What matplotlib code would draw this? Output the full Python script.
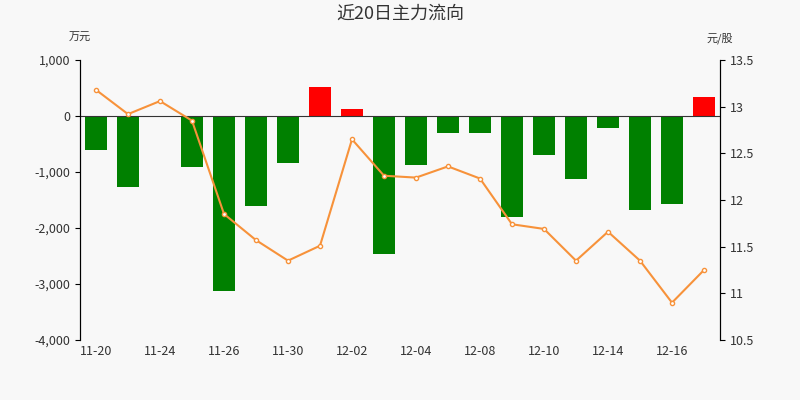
import matplotlib
matplotlib.use("Agg")
import matplotlib.pyplot as plt
plt.rcParams['font.family'] = ['Noto Sans CJK SC', 'DejaVu Sans']

dates = ["11-20","11-23","11-24","11-25","11-26","11-27","11-30","12-01","12-02","12-03",
         "12-04","12-07","12-08","12-09","12-10","12-11","12-14","12-15","12-16","12-17"]
flow = [-600,-1270,-20,-910,-3130,-1610,-840,520,125,-2470,
        -880,-310,-310,-1810,-700,-1130,-220,-1670,-1580,340]
price = [13.18,12.92,13.06,12.85,11.85,11.57,11.35,11.51,12.65,12.26,
         12.24,12.36,12.23,11.74,11.69,11.35,11.66,11.35,10.90,11.25]

bg = '#f8f8f8'
fig = plt.figure(figsize=(8,4), dpi=100, facecolor=bg)
ax = fig.add_axes([0.1, 0.15, 0.8, 0.70], facecolor=bg)
x = [i + 0.5 for i in range(len(dates))]
colors = ['#ff0000' if v > 0 else '#008000' for v in flow]
ax.bar(x, flow, width=0.7, color=colors, zorder=2)
ax.axhline(0, color='#333333', lw=0.8, zorder=3)
ax.set_xlim(0, 20)
ax.set_ylim(-4000, 1000)
ax.set_yticks(range(-4000, 1001, 1000))
ax.set_yticklabels([f"{v:,}" for v in range(-4000, 1001, 1000)], fontsize=9, color='#333333')
ax.set_xticks(x[::2])
ax.set_xticklabels(dates[::2], fontsize=9, color='#333333')
ax.tick_params(axis='x', length=0)
for s in ['top']:
    ax.spines[s].set_visible(False)
ax.spines['bottom'].set_visible(False)
ax2 = ax.twinx()
ax2.plot(x, price, color='#f7923a', lw=1.5, marker='o', ms=3, mfc='white', mec='#f7923a', zorder=4)
ax2.set_ylim(10.5, 13.5)
ax2.set_yticks([10.5,11,11.5,12,12.5,13,13.5])
ax2.set_yticklabels(['10.5','11','11.5','12','12.5','13','13.5'], fontsize=9, color='#333333')
ax2.spines['top'].set_visible(False)
ax2.spines['bottom'].set_visible(False)
fig.text(0.5, 0.965, "近20日主力流向", ha='center', va='center', fontsize=13, color='#333333')
fig.text(0.1, 0.905, "万元", ha='center', va='center', fontsize=8, color='#333333')
fig.text(0.9, 0.905, "元/股", ha='center', va='center', fontsize=8, color='#333333')
fig.savefig("out.png", dpi=100, facecolor=bg)
